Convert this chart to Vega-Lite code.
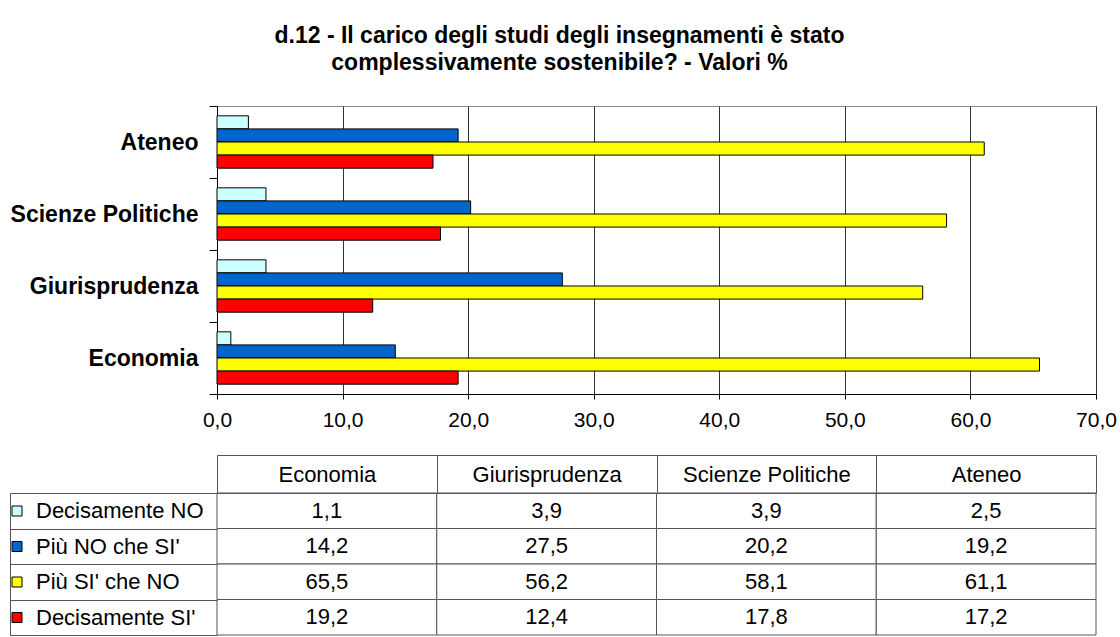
{
  "$schema": "https://vega.github.io/schema/vega-lite/v6.json",
  "padding": {"left": 6, "top": 24, "right": 0, "bottom": 0},
  "background": "white",
  "config": {
    "font": "Liberation Sans",
    "locale": {"number": {"decimal": ",", "thousands": ".", "grouping": [3], "currency": ["", " €"]}}
  },
  "title": {
    "text": ["d.12 - Il carico degli studi degli insegnamenti è stato", "complessivamente sostenibile? - Valori %"],
    "fontSize": 23,
    "fontWeight": "bold",
    "color": "black",
    "anchor": "middle",
    "lineHeight": 27,
    "offset": 20,
    "dx": -2
  },
  "datasets": {
    "d": [
      {"cat": "Economia", "series": "Decisamente NO", "value": 1.1},
      {"cat": "Economia", "series": "Più NO che SI'", "value": 14.2},
      {"cat": "Economia", "series": "Più SI' che NO", "value": 65.5},
      {"cat": "Economia", "series": "Decisamente SI'", "value": 19.2},
      {"cat": "Giurisprudenza", "series": "Decisamente NO", "value": 3.9},
      {"cat": "Giurisprudenza", "series": "Più NO che SI'", "value": 27.5},
      {"cat": "Giurisprudenza", "series": "Più SI' che NO", "value": 56.2},
      {"cat": "Giurisprudenza", "series": "Decisamente SI'", "value": 12.4},
      {"cat": "Scienze Politiche", "series": "Decisamente NO", "value": 3.9},
      {"cat": "Scienze Politiche", "series": "Più NO che SI'", "value": 20.2},
      {"cat": "Scienze Politiche", "series": "Più SI' che NO", "value": 58.1},
      {"cat": "Scienze Politiche", "series": "Decisamente SI'", "value": 17.8},
      {"cat": "Ateneo", "series": "Decisamente NO", "value": 2.5},
      {"cat": "Ateneo", "series": "Più NO che SI'", "value": 19.2},
      {"cat": "Ateneo", "series": "Più SI' che NO", "value": 61.1},
      {"cat": "Ateneo", "series": "Decisamente SI'", "value": 17.2}
    ]
  },
  "data": {"name": "d"},
  "spacing": 23,
  "resolve": {
    "scale": {"x": "independent", "y": "independent", "fill": "independent", "color": "independent"},
    "legend": {"fill": "independent", "color": "independent"}
  },
  "vconcat": [
    {
      "width": 879,
      "height": 288,
      "view": {"stroke": "#888888"},
      "mark": {"type": "bar", "stroke": "black", "strokeWidth": 1},
      "encoding": {
        "y": {
          "field": "cat",
          "type": "nominal",
          "sort": ["Ateneo", "Scienze Politiche", "Giurisprudenza", "Economia"],
          "scale": {"paddingInner": 0, "paddingOuter": 0},
          "axis": {
            "title": null,
            "tickBand": "extent",
            "tickSize": 8,
            "tickColor": "black",
            "domainColor": "black",
            "labelPadding": 11,
            "labelFontSize": 23,
            "labelFontWeight": "bold",
            "labelColor": "black",
            "labelLimit": 300,
            "minExtent": 207
          }
        },
        "yOffset": {
          "field": "series",
          "sort": ["Decisamente NO", "Più NO che SI'", "Più SI' che NO", "Decisamente SI'"],
          "scale": {"paddingInner": 0, "paddingOuter": 0.75}
        },
        "x": {
          "field": "value",
          "type": "quantitative",
          "scale": {"domain": [0, 70], "nice": false},
          "axis": {
            "title": null,
            "values": [0, 10, 20, 30, 40, 50, 60, 70],
            "format": ".1f",
            "labelFlush": false,
            "grid": true,
            "gridColor": "#333333",
            "gridOpacity": 1,
            "tickSize": 5,
            "tickColor": "black",
            "domainColor": "black",
            "labelFontSize": 21,
            "labelColor": "black",
            "labelPadding": 10
          }
        },
        "color": {
          "field": "series",
          "type": "nominal",
          "scale": {
            "domain": ["Decisamente NO", "Più NO che SI'", "Più SI' che NO", "Decisamente SI'"],
            "range": ["#CCFFFF", "#0066CC", "#FFFF00", "#FF0000"]
          },
          "legend": null
        }
      }
    },
    {
      "width": 879,
      "height": 142,
      "view": {"stroke": null},
      "resolve": {"axis": {"x": "independent"}},
      "encoding": {
        "y": {
          "field": "series",
          "type": "nominal",
          "sort": ["Decisamente NO", "Più NO che SI'", "Più SI' che NO", "Decisamente SI'"],
          "scale": {"paddingInner": 0, "paddingOuter": 0},
          "axis": {
            "orient": "left",
            "title": null,
            "offset": 207,
            "tickBand": "extent",
            "tickSize": -207,
            "labels": false,
            "tickColor": "#555555",
            "domainColor": "#555555"
          }
        }
      },
      "layer": [
        {
          "mark": {"type": "rect", "fill": "white", "stroke": "#555555", "strokeWidth": 1},
          "encoding": {
            "x": {
              "field": "cat",
              "type": "nominal",
              "sort": ["Economia", "Giurisprudenza", "Scienze Politiche", "Ateneo"],
              "scale": {"paddingInner": 0, "paddingOuter": 0},
              "axis": {
                "orient": "top",
                "title": null,
                "tickBand": "extent",
                "tickSize": 38,
                "tickColor": "#555555",
                "domainColor": "#555555",
                "labelFontSize": 22,
                "labelColor": "black",
                "labelAngle": 0,
                "labelBaseline": "middle",
                "labelPadding": -19,
                "labelLimit": 300
              }
            }
          }
        },
        {
          "mark": {"type": "text", "align": "center", "baseline": "middle", "fontSize": 22, "color": "black"},
          "encoding": {
            "x": {
              "field": "cat",
              "type": "nominal",
              "sort": ["Economia", "Giurisprudenza", "Scienze Politiche", "Ateneo"],
              "axis": {
                "orient": "top",
                "title": null,
                "offset": 38,
                "ticks": false,
                "labels": false,
                "domainColor": "#555555"
              }
            },
            "text": {"field": "value", "type": "quantitative", "format": ".1f"}
          }
        },
        {
          "mark": {"type": "square", "opacity": 0},
          "encoding": {
            "fill": {
              "field": "series",
              "type": "nominal",
              "scale": {
                "domain": ["Decisamente NO", "Più NO che SI'", "Più SI' che NO", "Decisamente SI'"],
                "range": ["#CCFFFF", "#0066CC", "#FFFF00", "#FF0000"]
              },
              "legend": {
                "orient": "none",
                "legendX": -211,
                "legendY": 7,
                "title": null,
                "padding": 0,
                "symbolType": "square",
                "symbolSize": 100,
                "symbolStrokeColor": "black",
                "symbolStrokeWidth": 1,
                "symbolOpacity": 1,
                "labelFontSize": 22,
                "labelColor": "black",
                "labelOffset": 8,
                "labelLimit": 300,
                "rowPadding": 13.5
              }
            }
          }
        }
      ]
    }
  ]
}
